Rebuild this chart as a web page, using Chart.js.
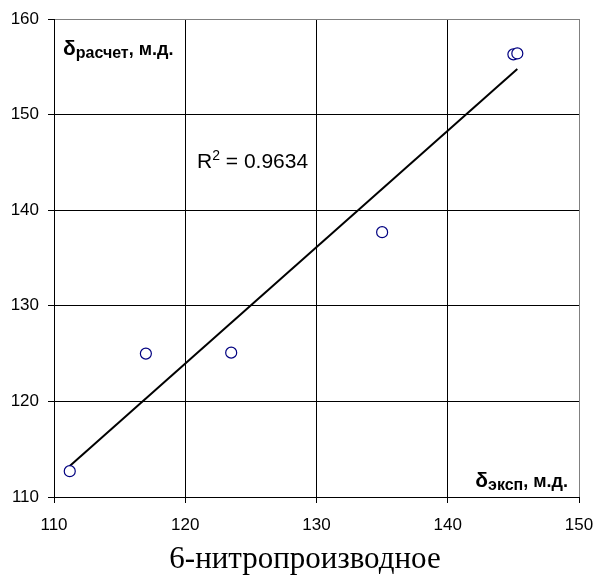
<!DOCTYPE html>
<html>
<head>
<meta charset="utf-8">
<script src="https://cdn.jsdelivr.net/npm/chart.js@4.4.1/dist/chart.umd.min.js"></script>
<style>
  html, body { margin: 0; padding: 0; background: #fff; }
  #wrap { width: 593px; height: 575px; }
</style>
</head>
<body>
<div id="wrap"><canvas id="myChart" width="593" height="575"></canvas></div>
<script>
// experimental vs calculated shifts
var xExp = [111.2, 117.0, 123.5, 135.0, 145.0, 145.3];
var yCalc = [112.7, 125.0, 125.1, 137.7, 156.3, 156.4];
var xTicks = [110, 120, 130, 140, 150];
var yTicks = [110, 120, 130, 140, 150, 160];
var rSquared = '0.9634';
var titleText = '6-нитропроизводное';

var sans = '"Liberation Sans", Arial, sans-serif';
var serif = '"Liberation Serif", "Times New Roman", serif';

// least squares line through the points
function linFit(xs, ys) {
    var n = xs.length, mx = 0, my = 0, sxy = 0, sxx = 0;
    for (var i = 0; i < n; i++) { mx += xs[i]; my += ys[i]; }
    mx /= n; my /= n;
    for (var i = 0; i < n; i++) {
        sxy += (xs[i] - mx) * (ys[i] - my);
        sxx += (xs[i] - mx) * (xs[i] - mx);
    }
    var k = sxy / sxx;
    return { k: k, b: my - k * mx };
}

var fit = linFit(xExp, yCalc);
var xMin = Math.min.apply(null, xExp), xMax = Math.max.apply(null, xExp);
var trend = [
    { x: xMin, y: fit.k * xMin + fit.b },
    { x: xMax, y: fit.k * xMax + fit.b }
];
var points = xExp.map(function (v, i) { return { x: v, y: yCalc[i] }; });

// pieces of text with their own font and vertical shift
function drawParts(ctx, x, y, parts) {
    parts.forEach(function (p) {
        ctx.font = p.font;
        ctx.fillText(p.text, x, y + (p.dy || 0));
        x += ctx.measureText(p.text).width;
    });
    return x;
}
function partsWidth(ctx, parts) {
    var w = 0;
    parts.forEach(function (p) { ctx.font = p.font; w += ctx.measureText(p.text).width; });
    return w;
}

var labelsPlugin = {
    id: 'plotLabels',
    afterDatasetsDraw: function (chart) {
        var ctx = chart.ctx, a = chart.chartArea;
        ctx.save();
        ctx.fillStyle = '#000';
        ctx.textBaseline = 'alphabetic';
        ctx.textAlign = 'left';
        var yParts = [
            { text: 'δ', font: 'bold 21px ' + sans },
            { text: 'расчет', font: 'bold 16px ' + sans, dy: 3 },
            { text: ', м.д.', font: 'bold 18px ' + sans }
        ];
        drawParts(ctx, a.left + 9, a.top + 36, yParts);
        var xParts = [
            { text: 'δ', font: 'bold 21px ' + sans },
            { text: 'эксп', font: 'bold 16px ' + sans, dy: 3 },
            { text: ', м.д.', font: 'bold 18px ' + sans }
        ];
        drawParts(ctx, a.right - 11 - partsWidth(ctx, xParts), a.bottom - 10, xParts);
        drawParts(ctx, 197, 168, [
            { text: 'R', font: '21px ' + sans },
            { text: '2', font: '14px ' + sans, dy: -8 },
            { text: ' = ' + rSquared, font: '21px ' + sans }
        ]);
        // caption under the axes
        ctx.font = '31px ' + serif;
        ctx.textAlign = 'center';
        ctx.fillText(titleText, 305, 568);
        ctx.restore();
    }
};

var edgeGray = '#808080';

var ctx = document.getElementById('myChart').getContext('2d');
var myChart = new Chart(ctx, {
    type: 'scatter',
    data: {
        datasets: [{
            label: 'points',
            data: points,
            pointStyle: 'circle',
            pointRadius: 5.5,
            pointBorderWidth: 1.2,
            pointBorderColor: '#000080',
            pointBackgroundColor: '#ffffff',
            order: 0
        }, {
            type: 'line',
            label: 'trend',
            data: trend,
            borderColor: '#000',
            borderWidth: 2,
            pointRadius: 0,
            fill: false,
            order: 1
        }]
    },
    options: {
        responsive: false,
        animation: false,
        layout: { padding: { top: 19, right: 14, left: 0, bottom: 0 } },
        plugins: {
            legend: { display: false },
            tooltip: { enabled: false },
            title: { display: false }
        },
        scales: {
            x: {
                type: 'linear',
                min: 110, max: 150,
                afterBuildTicks: function (s) { s.ticks = xTicks.map(function (v) { return { value: v }; }); },
                afterFit: function (s) { s.height = 78; s.paddingRight = 0; s.paddingLeft = 0; },
                ticks: { color: '#000', font: { family: sans, size: 17 }, padding: 12, maxRotation: 0 },
                grid: {
                    color: function (c) { return c.tick && c.tick.value === 150 ? edgeGray : '#000'; },
                    tickColor: '#000',
                    tickLength: 6,
                    lineWidth: 1
                },
                border: { display: true, color: '#000', width: 1 }
            },
            y: {
                type: 'linear',
                min: 110, max: 160,
                afterBuildTicks: function (s) { s.ticks = yTicks.map(function (v) { return { value: v }; }); },
                afterFit: function (s) { s.width = 54; s.paddingTop = 0; s.paddingBottom = 0; },
                ticks: { color: '#000', font: { family: sans, size: 17 }, padding: 9 },
                grid: {
                    color: function (c) { return c.tick && c.tick.value === 160 ? edgeGray : '#000'; },
                    tickColor: '#000',
                    tickLength: 6,
                    lineWidth: 1
                },
                border: { display: true, color: '#000', width: 1 }
            }
        }
    },
    plugins: [labelsPlugin]
});
</script>
</body>
</html>
